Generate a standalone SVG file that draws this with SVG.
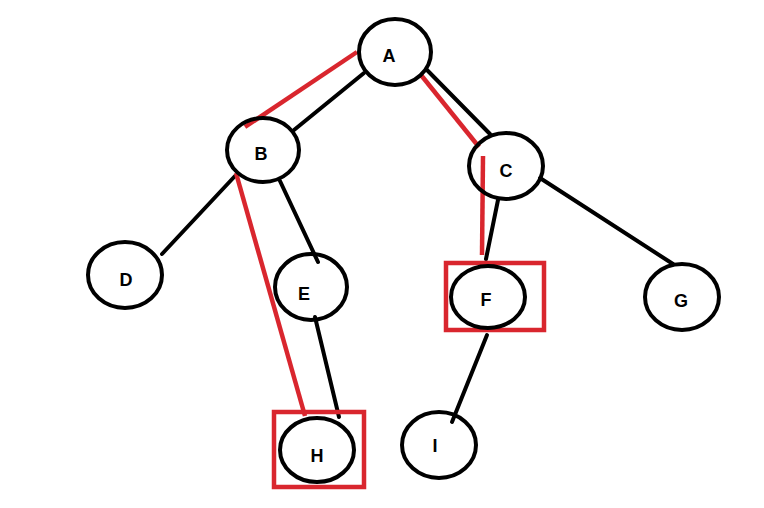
<svg xmlns="http://www.w3.org/2000/svg" width="764" height="508" viewBox="0 0 764 508">
<style>
.n{fill:none;stroke:#000;stroke-width:4}
.t{font-family:"Liberation Sans",Arial,sans-serif;font-weight:bold;font-size:18px;fill:#000;text-anchor:middle}
.e{stroke:#000;stroke-width:4;stroke-linecap:round;fill:none}
.r{stroke:#d9262e;stroke-width:4.5;fill:none}
</style>
<rect width="764" height="508" fill="#fff"/>
<g id="connectors">
<line class="e" x1="364" y1="73" x2="294" y2="130"/>
<line class="e" x1="427" y1="70" x2="490" y2="134"/>
<line class="e" x1="235" y1="176" x2="162" y2="254"/>
<line class="e" x1="280" y1="181" x2="318" y2="262"/>
<line class="e" x1="315" y1="317" x2="339" y2="417"/>
<line class="e" x1="498" y1="200" x2="486" y2="259"/>
<line class="e" x1="540" y1="178" x2="673" y2="264"/>
<line class="e" x1="487" y1="335" x2="452" y2="422"/>
<line class="r" x1="357" y1="52" x2="245" y2="127"/>
<line class="r" x1="421" y1="75" x2="479" y2="147"/>
<line class="r" x1="483" y1="156" x2="482" y2="255"/>
<line class="r" x1="236" y1="173" x2="305" y2="416"/>
</g>
<g id="A"><ellipse class="n" cx="395" cy="52" rx="36" ry="33"/><text class="t" x="389" y="62">A</text></g>
<g id="B"><ellipse class="n" cx="263" cy="150" rx="36" ry="32"/><text class="t" x="261" y="160">B</text></g>
<g id="C"><ellipse class="n" cx="506" cy="166" rx="37" ry="33"/><text class="t" x="506" y="177">C</text></g>
<g id="D"><ellipse class="n" cx="125" cy="275" rx="37" ry="33"/><text class="t" x="126" y="286">D</text></g>
<g id="E"><ellipse class="n" cx="311" cy="287" rx="36" ry="33"/><text class="t" x="304" y="300">E</text></g>
<g id="F"><rect x="446" y="263" width="98" height="67" fill="none" stroke="#d9262e" stroke-width="4.5"/><ellipse class="n" cx="488" cy="297" rx="37" ry="31"/><text class="t" x="486" y="306">F</text></g>
<g id="G"><ellipse class="n" cx="682" cy="297" rx="37" ry="33"/><text class="t" x="681" y="307">G</text></g>
<g id="H"><rect x="274" y="412" width="90" height="75" fill="none" stroke="#d9262e" stroke-width="4.5"/><ellipse class="n" cx="317" cy="450" rx="37" ry="32"/><text class="t" x="317" y="462">H</text></g>
<g id="I"><ellipse class="n" cx="439" cy="445" rx="37" ry="33"/><text class="t" x="435" y="452">I</text></g>
</svg>
